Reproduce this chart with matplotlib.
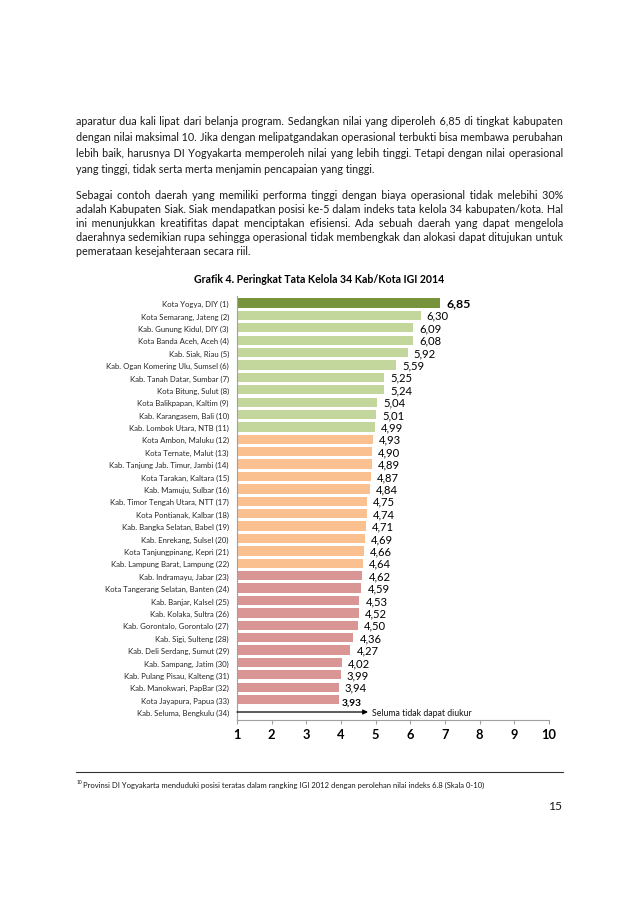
import matplotlib
matplotlib.use('Agg')
import matplotlib.pyplot as plt

# ---------------- data ----------------
categories = [
    "Kota Yogya, DIY (1)", "Kota Semarang, Jateng (2)", "Kab. Gunung Kidul, DIY (3)",
    "Kota Banda Aceh, Aceh (4)", "Kab. Siak, Riau (5)", "Kab. Ogan Komering Ulu, Sumsel (6)",
    "Kab. Tanah Datar, Sumbar (7)", "Kota Bitung, Sulut (8)", "Kota Balikpapan, Kaltim (9)",
    "Kab. Karangasem, Bali (10)", "Kab. Lombok Utara, NTB (11)", "Kota Ambon, Maluku (12)",
    "Kota Ternate, Malut (13)", "Kab. Tanjung Jab. Timur, Jambi (14)", "Kota Tarakan, Kaltara (15)",
    "Kab. Mamuju, Sulbar (16)", "Kab. Timor Tengah Utara, NTT (17)", "Kota Pontianak, Kalbar (18)",
    "Kab. Bangka Selatan, Babel (19)", "Kab. Enrekang, Sulsel (20)", "Kota Tanjungpinang, Kepri (21)",
    "Kab. Lampung Barat, Lampung (22)", "Kab. Indramayu, Jabar (23)", "Kota Tangerang Selatan, Banten (24)",
    "Kab. Banjar, Kalsel (25)", "Kab. Kolaka, Sultra (26)", "Kab. Gorontalo, Gorontalo (27)",
    "Kab. Sigi, Sulteng (28)", "Kab. Deli Serdang, Sumut (29)", "Kab. Sampang, Jatim (30)",
    "Kab. Pulang Pisau, Kalteng (31)", "Kab. Manokwari, PapBar (32)", "Kota Jayapura, Papua (33)",
    "Kab. Seluma, Bengkulu (34)",
]
values = [6.85, 6.30, 6.09, 6.08, 5.92, 5.59, 5.25, 5.24, 5.04, 5.01, 4.99,
          4.93, 4.90, 4.89, 4.87, 4.84, 4.75, 4.74, 4.71, 4.69, 4.66, 4.64,
          4.62, 4.59, 4.53, 4.52, 4.50, 4.36, 4.27, 4.02, 3.99, 3.94, 3.93]
tiers = [0] + [1] * 10 + [2] * 11 + [3] * 11
tier_colors = ['#77933C', '#C3D69B', '#FAC090', '#D99694']
unmeasured_note = "Seluma tidak dapat diukur"
x_ticks = [1, 2, 3, 4, 5, 6, 7, 8, 9, 10]
title = "Grafik 4. Peringkat Tata Kelola 34 Kab/Kota IGI 2014"

para1 = [
    "aparatur dua kali lipat dari belanja program. Sedangkan nilai yang diperoleh 6,85 di tingkat kabupaten",
    "dengan nilai maksimal 10. Jika dengan melipatgandakan operasional terbukti bisa membawa perubahan",
    "lebih baik, harusnya DI Yogyakarta memperoleh nilai yang lebih tinggi. Tetapi dengan nilai operasional",
    "yang tinggi, tidak serta merta menjamin pencapaian yang tinggi.",
]
para2 = [
    "Sebagai contoh daerah yang memiliki performa tinggi dengan biaya operasional tidak melebihi 30%",
    "adalah Kabupaten Siak. Siak mendapatkan posisi ke-5 dalam indeks tata kelola 34 kabupaten/kota. Hal",
    "ini menunjukkan kreatifitas dapat menciptakan efisiensi. Ada sebuah daerah yang dapat mengelola",
    "daerahnya sedemikian rupa sehingga operasional tidak membengkak dan alokasi dapat ditujukan untuk",
    "pemerataan kesejahteraan secara riil.",
]
footnote_mark = "10"
footnote = ("Provinsi DI Yogyakarta menduduki posisi teratas dalam rangking IGI 2012 "
            "dengan perolehan nilai indeks 6.8 (Skala 0-10)")
page_number = "15"

# ---------------- setup ----------------
W, H = 638, 903
fig = plt.figure(figsize=(W / 100, H / 100), dpi=100)
fig.patch.set_facecolor('white')
renderer = fig.canvas.get_renderer()
FAM = ['Lato', 'DejaVu Sans']
TXT = '#1a1a1a'
HAIR = '\u200a'


def measure(s, size, weight='normal'):
    t = fig.text(0, 0, s, fontsize=size, fontweight=weight, family=FAM)
    w = t.get_window_extent(renderer).width
    t.remove()
    return w


def fit(s, target, weight='normal'):
    return 10.0 * target / measure(s, 10, weight)


def P(x, y):
    return x / W, 1 - y / H


def put_line(line, x0, x1, y, size, justify=True):
    s = line
    if justify:
        words = line.split(' ')
        g = len(words) - 1
        w0 = measure(line, size)
        hw = (measure('x' + HAIR * 20 + 'x', size) - measure('xx', size)) / 20.0
        N = max(0, int(round((x1 - x0 - w0) / hw)))
        parts = []
        for i, w in enumerate(words):
            parts.append(w)
            if i < g:
                k = (i + 1) * N // g - i * N // g
                parts.append(' ' + HAIR * k)
        s = ''.join(parts)
    fig.text(*P(x0, y), s, fontsize=size, family=FAM, va='baseline',
             ha='left', color=TXT)


# ---------------- body text ----------------
LX, RX = 76, 563
body_size = fit(para1[-1], 297)
for i, line in enumerate(para1):
    put_line(line, LX, RX, 125 + i * 16.1, body_size, justify=(i < len(para1) - 1))
for i, line in enumerate(para2):
    put_line(line, LX, RX, 199 + i * 14.0, body_size, justify=(i < len(para2) - 1))

title_size = fit(title, 250, 'bold')
fig.text(*P(319, 283), title, fontsize=title_size, fontweight='bold', family=FAM,
         ha='center', va='baseline', color='#000000')

# ---------------- chart ----------------
ax = fig.add_axes([237 / W, 1 - 721 / H, (549 - 237) / W, (721 - 297) / H])
n = len(categories)
ypos = list(range(n))
ax.barh(ypos[:len(values)], [v - 1 for v in values], left=1, height=0.75,
        color=[tier_colors[t] for t in tiers], edgecolor='none', zorder=2)
ax.set_xlim(1, 10)
ax.set_ylim(n - 1 + 0.645, -0.565)

cat_size = fit("Kab. Ogan Komering Ulu, Sumsel (6)", 122)
ax.set_yticks(ypos)
ax.set_yticklabels(categories, fontsize=cat_size, family=FAM, color='#262626')
ax.tick_params(axis='y', length=0, pad=5.8)

ax.set_xticks(x_ticks)
ax.set_xticklabels([str(t) for t in x_ticks])
tick_size = fit("10", 15, 'bold')
for lab in ax.get_xticklabels():
    lab.set_fontsize(tick_size)
    lab.set_fontweight('bold')
    lab.set_family(FAM)
ax.tick_params(axis='x', length=3, width=0.8, color='#a0a0a0', pad=2.5)

for s in ['top', 'right']:
    ax.spines[s].set_visible(False)
for s in ['left', 'bottom']:
    ax.spines[s].set_color('#a0a0a0')
    ax.spines[s].set_linewidth(0.8)

val_size = fit("4,93", 22)
for i, v in enumerate(values):
    lab = f"{v:.2f}".replace('.', ',')
    if i == 0:
        ax.annotate(lab, (v, i), xytext=(7, 0), textcoords='offset pixels',
                    fontsize=val_size * 1.1, fontweight='bold', family=FAM,
                    va='center', ha='left', color='#000000')
    elif i == len(values) - 1:
        ax.annotate(lab, (v, i), xytext=(3, -3), textcoords='offset pixels',
                    fontsize=val_size * 0.9, fontweight='bold', family=FAM,
                    va='center', ha='left', color='#000000')
    else:
        ax.annotate(lab, (v, i), xytext=(6, 0), textcoords='offset pixels',
                    fontsize=val_size, family=FAM, va='center', ha='left',
                    color='#000000')

# unmeasured row: arrow + note
last = n - 1
ax.annotate('', xy=(4.78, last), xytext=(1, last),
            arrowprops=dict(arrowstyle='-|>', color='#000000', lw=0.9,
                            mutation_scale=7, shrinkA=0, shrinkB=0))
note_size = fit(unmeasured_note, 100)
ax.text(4.905, last, unmeasured_note, fontsize=note_size, family=FAM,
        va='center', ha='left', color='#111111')

# ---------------- footnote & page number ----------------
fig.add_artist(plt.Line2D([76 / W, 563 / W], [1 - 773 / H, 1 - 773 / H],
                          color='#333333', lw=0.8))
fn_size = fit(footnote, 402)
fig.text(*P(77, 784), footnote_mark, fontsize=fn_size * 0.65, family=FAM,
         ha='left', va='baseline', color=TXT)
fig.text(*P(83, 788), footnote, fontsize=fn_size, family=FAM, ha='left',
         va='baseline', color=TXT)
pn_size = fit(page_number, 14)
fig.text(*P(563, 810), page_number, fontsize=pn_size, family=FAM, ha='right',
         va='baseline', color=TXT)

fig.savefig('out.png', dpi=100, facecolor='white')
